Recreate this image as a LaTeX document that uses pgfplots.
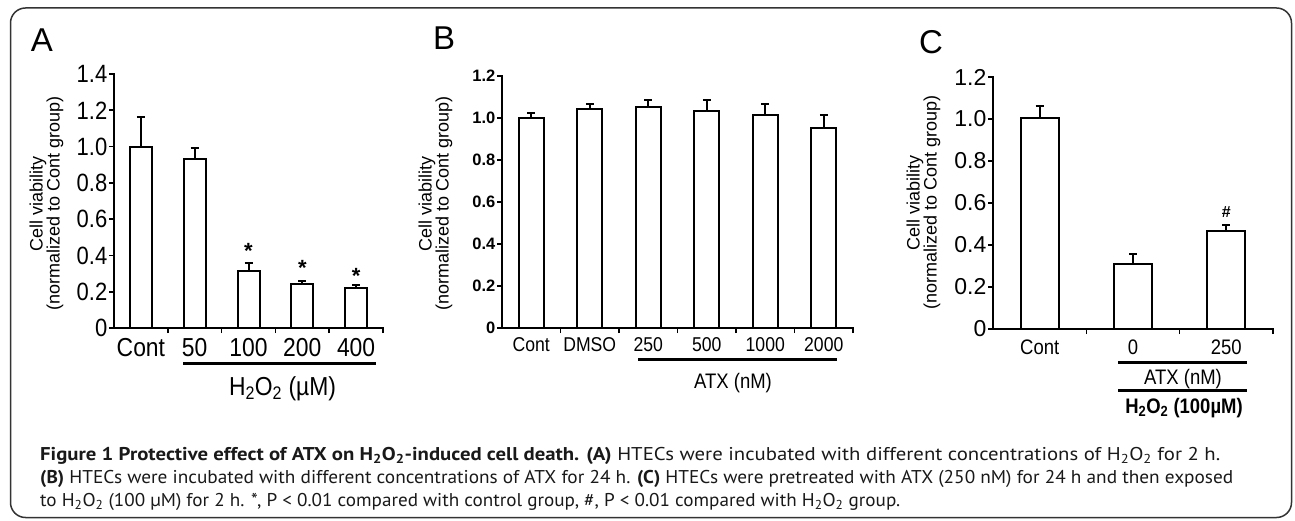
\documentclass[border=0pt]{standalone}
\usepackage{fontspec}
\setmainfont{Liberation Sans}
\newfontfamily\nf{Liberation Sans}[FakeStretch=0.88]
\newfontfamily\capfont{PT Sans}
\usepackage{graphicx}
\usepackage{pgfplots}
\pgfplotsset{compat=1.18}

\newcommand{\fs}[1]{\fontsize{#1}{#1}\selectfont}
\newcommand{\HHOO}{H\textsubscript{2}O\textsubscript{2}}

\pgfplotsset{
  panel/.style={
    scale only axis, axis lines*=left,
    axis line style={line width=2pt, line cap=rect},
    xmin=0, ymin=0, clip=false,
    tick align=outside, major tick length=5pt,
    every tick/.style={black, line width=1.6pt},
    xticklabels={},
    yticklabel style={inner sep=1.5pt},
    extra x tick style={major tick length=0pt, xticklabel style={anchor=base}},
  },
  bars/.style={ybar, bar width=#1, draw=black, fill=white, line width=2pt,
    error bars/.cd, y dir=plus, y explicit,
    error bar style={line width=2pt},
    error mark options={rotate=90, mark size=4pt, line width=2pt, black}},
}

\begin{document}
\begin{tikzpicture}[x=1pt,y=1pt]
\path (0,0) rectangle (1295,520);
\draw[line width=1.5pt, black!80, rounded corners=15pt] (10.5,2.5) rectangle (1291.5,512);

% ---------- A ----------
\begin{axis}[panel, at={(114pt,192pt)}, anchor=south west,
  width=269pt, height=254pt, xmax=5, ymax=1.4,
  xtick={1,2,3,4,5},
  ytick={0,0.2,0.4,0.6,0.8,1,1.2,1.4},
  yticklabels={0,0.2,0.4,0.6,0.8,1.0,1.2,1.4},
  yticklabel style={font=\nf\fs{25}},
  extra x ticks={0.5,1.5,2.5,3.5,4.5},
  extra x tick labels={Cont,50,100,200,400},
  extra x tick style={xticklabel style={font=\nf\fs{26}, yshift=-28.7pt}},
]
\addplot[bars=22pt] coordinates {
  (0.5,1.000) +- (0,0.165)
  (1.5,0.933) +- (0,0.060)
  (2.5,0.316) +- (0,0.045)
  (3.5,0.241) +- (0,0.016)
  (4.5,0.219) +- (0,0.016)
};
\node[font=\bfseries\fs{22}, anchor=north, inner sep=0pt] at (axis cs:2.5,0.470) {*};
\node[font=\bfseries\fs{22}, anchor=north, inner sep=0pt] at (axis cs:3.5,0.375) {*};
\node[font=\bfseries\fs{22}, anchor=north, inner sep=0pt] at (axis cs:4.5,0.332) {*};
\end{axis}

% ---------- B ----------
\begin{axis}[panel, at={(502pt,192pt)}, anchor=south west,
  width=351pt, height=252pt, xmax=6, ymax=1.2,
  xtick={1,2,3,4,5,6},
  ytick={0,0.2,0.4,0.6,0.8,1,1.2},
  yticklabels={0,0.2,0.4,0.6,0.8,1.0,1.2},
  yticklabel style={font=\bfseries\fs{16.5}},
  extra x ticks={0.5,1.5,2.5,3.5,4.5,5.5},
  extra x tick labels={Cont,DMSO,250,500,1000,2000},
  extra x tick style={xticklabel style={font=\nf\fs{20}, yshift=-23.7pt}},
]
\addplot[bars=25pt] coordinates {
  (0.5,1.000) +- (0,0.022)
  (1.5,1.041) +- (0,0.026)
  (2.5,1.051) +- (0,0.035)
  (3.5,1.032) +- (0,0.054)
  (4.5,1.016) +- (0,0.052)
  (5.5,0.951) +- (0,0.062)
};
\end{axis}

% ---------- C ----------
\begin{axis}[panel, at={(993pt,191pt)}, anchor=south west,
  width=280pt, height=252pt, xmax=3, ymax=1.2,
  xtick={1,2,3},
  ytick={0,0.2,0.4,0.6,0.8,1,1.2},
  yticklabels={0,0.2,0.4,0.6,0.8,1.0,1.2},
  yticklabel style={font=\fs{23}},
  extra x ticks={0.5,1.5,2.5},
  extra x tick labels={Cont,0,250},
  extra x tick style={xticklabel style={font=\nf\fs{21}, yshift=-25.3pt}},
]
\addplot[bars=38pt] coordinates {
  (0.5,1.003) +- (0,0.060)
  (1.5,0.310) +- (0,0.047)
  (2.5,0.468) +- (0,0.026)
};
\node[font=\bfseries\fs{16}, inner sep=0pt] at (axis cs:2.5,0.557) {\#};
\end{axis}

% group labels
\draw[line width=3pt] (183,156.7) -- (376,156.7);
\node[font=\nf\fs{26}, anchor=base] at (282.5,125) {\HHOO{} (µM)};
\draw[line width=3pt] (638,161) -- (837,161);
\node[font=\nf\fs{21}, anchor=base] at (733,131.7) {ATX (nM)};
\draw[line width=2.5pt] (1118,157.7) -- (1247,157.7);
\node[font=\nf\fs{21}, anchor=base] at (1183,136) {ATX (nM)};
\draw[line width=2.5pt] (1118,129.3) -- (1247,129.3);
\node[font=\nf\bfseries\fs{21}, anchor=base] at (1184,107) {\HHOO{} (100µM)};

% y labels
\node[rotate=90, align=center, font=\fontsize{18}{17}\selectfont] at (46.5,316.5) {Cell viability\\(normalized to Cont group)};
\node[rotate=90, align=center, font=\fontsize{18}{17}\selectfont] at (435.5,316.5) {Cell viability\\(normalized to Cont group)};
\node[rotate=90, align=center, font=\fontsize{18}{17}\selectfont] at (923.5,317.5) {Cell viability\\(normalized to Cont group)};

% panel letters
\node[font=\fs{33}] at (42,480) {A};
\node[font=\fs{33}] at (444,482) {B};
\node[font=\fs{33}] at (931,478) {C};

% caption
\begin{scope}[every node/.style={anchor=base west, inner sep=0pt, font=\capfont\fs{18.5}, text=black!90}]
\node at (40,60) {\resizebox{1180pt}{\height}{\textbf{Figure 1 Protective effect of ATX on \HHOO-induced cell death. (A)} HTECs were incubated with different concentrations of \HHOO{} for 2 h.}};
\node at (40,37) {\resizebox{1193pt}{\height}{\textbf{(B)} HTECs were incubated with different concentrations of ATX for 24 h. \textbf{(C)} HTECs were pretreated with ATX (250 nM) for 24 h and then exposed}};
\node at (40,14) {\resizebox{860pt}{\height}{to \HHOO{} (100 µM) for 2 h. *, P < 0.01 compared with control group, \#, P < 0.01 compared with \HHOO{} group.}};
\end{scope}
\end{tikzpicture}
\end{document}
